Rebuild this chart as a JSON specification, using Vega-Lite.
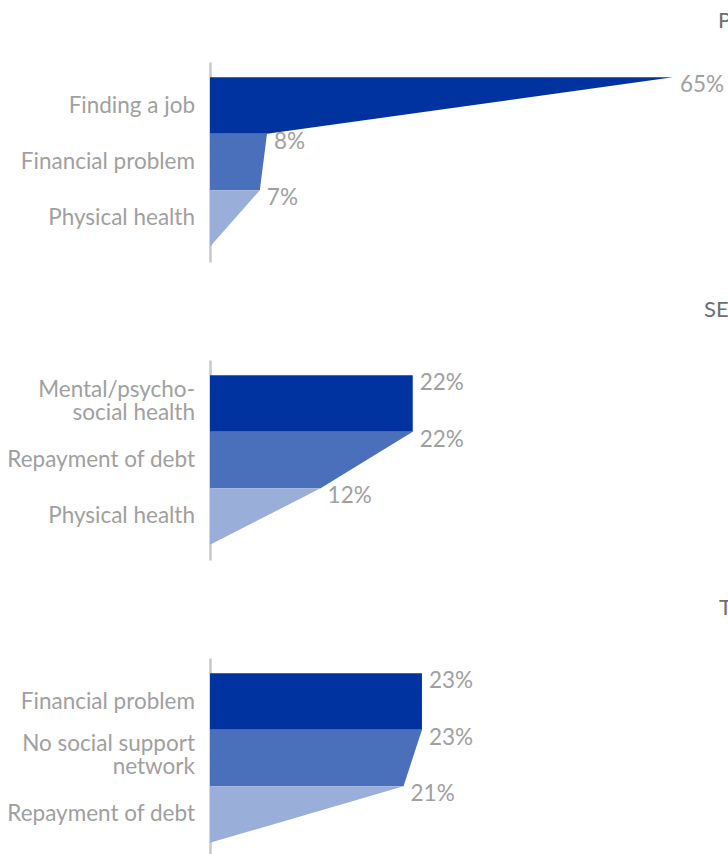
{
  "$schema": "https://vega.github.io/schema/vega-lite/v6.json",
  "padding": {"left": 6, "top": 10, "right": 0, "bottom": 0},
  "config": {
    "view": {"stroke": null},
    "font": "Lato",
    "concat": {"spacing": 37},
    "title": {"anchor": "start", "frame": "group", "fontSize": 22, "fontWeight": "normal", "color": "#6e6e6e", "font": "Lato"}
  },
  "datasets": {
    "shape": [
      {"panel": "P", "seg": "a", "p": 0, "v": 65},
      {"panel": "P", "seg": "a", "p": 1, "v": 8},
      {"panel": "P", "seg": "b", "p": 1, "v": 8},
      {"panel": "P", "seg": "b", "p": 2, "v": 7},
      {"panel": "P", "seg": "c", "p": 2, "v": 7},
      {"panel": "P", "seg": "c", "p": 3, "v": 0},
      {"panel": "S", "seg": "a", "p": 0, "v": 22},
      {"panel": "S", "seg": "a", "p": 1, "v": 22},
      {"panel": "S", "seg": "b", "p": 1, "v": 22},
      {"panel": "S", "seg": "b", "p": 2, "v": 12},
      {"panel": "S", "seg": "c", "p": 2, "v": 12},
      {"panel": "S", "seg": "c", "p": 3, "v": 0},
      {"panel": "T", "seg": "a", "p": 0, "v": 23},
      {"panel": "T", "seg": "a", "p": 1, "v": 23},
      {"panel": "T", "seg": "b", "p": 1, "v": 23},
      {"panel": "T", "seg": "b", "p": 2, "v": 21},
      {"panel": "T", "seg": "c", "p": 2, "v": 21},
      {"panel": "T", "seg": "c", "p": 3, "v": 0}
    ],
    "cats": [
      {"panel": "P", "p": 0.5, "label": "Finding a job"},
      {"panel": "P", "p": 1.5, "label": "Financial problem"},
      {"panel": "P", "p": 2.5, "label": "Physical health"},
      {"panel": "S", "p": 0.5, "label": "Mental/psycho-|social health"},
      {"panel": "S", "p": 1.5, "label": "Repayment of debt"},
      {"panel": "S", "p": 2.5, "label": "Physical health"},
      {"panel": "T", "p": 0.5, "label": "Financial problem"},
      {"panel": "T", "p": 1.5, "label": "No social support|network"},
      {"panel": "T", "p": 2.5, "label": "Repayment of debt"}
    ],
    "vals": [
      {"panel": "P", "p": 0, "v": 65, "t": "65%"},
      {"panel": "P", "p": 1, "v": 8, "t": "8%"},
      {"panel": "P", "p": 2, "v": 7, "t": "7%"},
      {"panel": "S", "p": 0, "v": 22, "t": "22%"},
      {"panel": "S", "p": 1, "v": 22, "t": "22%"},
      {"panel": "S", "p": 2, "v": 12, "t": "12%"},
      {"panel": "T", "p": 0, "v": 23, "t": "23%"},
      {"panel": "T", "p": 1, "v": 23, "t": "23%"},
      {"panel": "T", "p": 2, "v": 21, "t": "21%"}
    ]
  },
  "vconcat": [
    {
      "width": 470, "height": 200,
      "title": {"text": "PRIMARY", "dx": 508, "offset": 29},
      "layer": [
        {
          "data": {"name": "shape"},
          "transform": [{"filter": "datum.panel == 'P'"}],
          "mark": {"type": "area", "orient": "horizontal"},
          "encoding": {
            "y": {"field": "p", "type": "quantitative", "scale": {"domain": [-0.27, 3.27], "reverse": true, "nice": false, "zero": false}, "axis": {"title": null, "labels": false, "ticks": false, "grid": false, "domainColor": "#c8c8c8", "domainWidth": 2.5}},
            "x": {"field": "v", "type": "quantitative", "stack": null, "scale": {"domain": [0, 66], "nice": false}, "axis": null},
            "color": {"field": "seg", "type": "nominal", "scale": {"domain": ["a", "b", "c"], "range": ["#0033a0", "#4a70bb", "#99aed9"]}, "legend": null}
          }
        },
        {
          "data": {"name": "cats"},
          "transform": [{"filter": "datum.panel == 'P' && indexof(datum.label, '|') < 0"}],
          "mark": {"type": "text", "align": "right", "baseline": "middle", "dx": -15, "fontSize": 22.5, "color": "#a0a0a0"},
          "encoding": {
            "y": {"field": "p", "type": "quantitative"},
            "x": {"datum": 0, "type": "quantitative"},
            "text": {"field": "label", "type": "nominal"}
          }
        },
        {
          "data": {"name": "vals"},
          "transform": [{"filter": "datum.panel == 'P'"}],
          "mark": {"type": "text", "align": "left", "baseline": "middle", "dx": 7, "dy": 8, "fontSize": 22.5, "color": "#a0a0a0"},
          "encoding": {
            "y": {"field": "p", "type": "quantitative"},
            "x": {"field": "v", "type": "quantitative"},
            "text": {"field": "t", "type": "nominal"}
          }
        }
      ]
    },
    {
      "width": 470, "height": 200,
      "title": {"text": "SECONDARY", "dx": 494, "offset": 38},
      "layer": [
        {
          "data": {"name": "shape"},
          "transform": [{"filter": "datum.panel == 'S'"}],
          "mark": {"type": "area", "orient": "horizontal"},
          "encoding": {
            "y": {"field": "p", "type": "quantitative", "scale": {"domain": [-0.27, 3.27], "reverse": true, "nice": false, "zero": false}, "axis": {"title": null, "labels": false, "ticks": false, "grid": false, "domainColor": "#c8c8c8", "domainWidth": 2.5}},
            "x": {"field": "v", "type": "quantitative", "stack": null, "scale": {"domain": [0, 51], "nice": false}, "axis": null},
            "color": {"field": "seg", "type": "nominal", "scale": {"domain": ["a", "b", "c"], "range": ["#0033a0", "#4a70bb", "#99aed9"]}, "legend": null}
          }
        },
        {
          "data": {"name": "cats"},
          "transform": [{"filter": "datum.panel == 'S' && indexof(datum.label, '|') < 0"}],
          "mark": {"type": "text", "align": "right", "baseline": "middle", "dx": -15, "fontSize": 22.5, "color": "#a0a0a0"},
          "encoding": {
            "y": {"field": "p", "type": "quantitative"},
            "x": {"datum": 0, "type": "quantitative"},
            "text": {"field": "label", "type": "nominal"}
          }
        },
        {
          "data": {"name": "cats"},
          "transform": [{"filter": "datum.panel == 'S' && indexof(datum.label, '|') >= 0"}],
          "mark": {"type": "text", "align": "right", "baseline": "middle", "dx": -15, "dy": -14, "fontSize": 22.5, "lineBreak": "|", "lineHeight": 23, "color": "#a0a0a0"},
          "encoding": {
            "y": {"field": "p", "type": "quantitative"},
            "x": {"datum": 0, "type": "quantitative"},
            "text": {"field": "label", "type": "nominal"}
          }
        },
        {
          "data": {"name": "vals"},
          "transform": [{"filter": "datum.panel == 'S'"}],
          "mark": {"type": "text", "align": "left", "baseline": "middle", "dx": 7, "dy": 8, "fontSize": 22.5, "color": "#a0a0a0"},
          "encoding": {
            "y": {"field": "p", "type": "quantitative"},
            "x": {"field": "v", "type": "quantitative"},
            "text": {"field": "t", "type": "nominal"}
          }
        }
      ]
    },
    {
      "width": 470, "height": 200,
      "title": {"text": "TERTIARY", "dx": 509, "offset": 38},
      "layer": [
        {
          "data": {"name": "shape"},
          "transform": [{"filter": "datum.panel == 'T'"}],
          "mark": {"type": "area", "orient": "horizontal"},
          "encoding": {
            "y": {"field": "p", "type": "quantitative", "scale": {"domain": [-0.27, 3.27], "reverse": true, "nice": false, "zero": false}, "axis": {"title": null, "labels": false, "ticks": false, "grid": false, "domainColor": "#c8c8c8", "domainWidth": 2.5}},
            "x": {"field": "v", "type": "quantitative", "stack": null, "scale": {"domain": [0, 51], "nice": false}, "axis": null},
            "color": {"field": "seg", "type": "nominal", "scale": {"domain": ["a", "b", "c"], "range": ["#0033a0", "#4a70bb", "#99aed9"]}, "legend": null}
          }
        },
        {
          "data": {"name": "cats"},
          "transform": [{"filter": "datum.panel == 'T' && indexof(datum.label, '|') < 0"}],
          "mark": {"type": "text", "align": "right", "baseline": "middle", "dx": -15, "fontSize": 22.5, "color": "#a0a0a0"},
          "encoding": {
            "y": {"field": "p", "type": "quantitative"},
            "x": {"datum": 0, "type": "quantitative"},
            "text": {"field": "label", "type": "nominal"}
          }
        },
        {
          "data": {"name": "cats"},
          "transform": [{"filter": "datum.panel == 'T' && indexof(datum.label, '|') >= 0"}],
          "mark": {"type": "text", "align": "right", "baseline": "middle", "dx": -15, "dy": -14, "fontSize": 22.5, "lineBreak": "|", "lineHeight": 23, "color": "#a0a0a0"},
          "encoding": {
            "y": {"field": "p", "type": "quantitative"},
            "x": {"datum": 0, "type": "quantitative"},
            "text": {"field": "label", "type": "nominal"}
          }
        },
        {
          "data": {"name": "vals"},
          "transform": [{"filter": "datum.panel == 'T'"}],
          "mark": {"type": "text", "align": "left", "baseline": "middle", "dx": 7, "dy": 8, "fontSize": 22.5, "color": "#a0a0a0"},
          "encoding": {
            "y": {"field": "p", "type": "quantitative"},
            "x": {"field": "v", "type": "quantitative"},
            "text": {"field": "t", "type": "nominal"}
          }
        }
      ]
    }
  ]
}
